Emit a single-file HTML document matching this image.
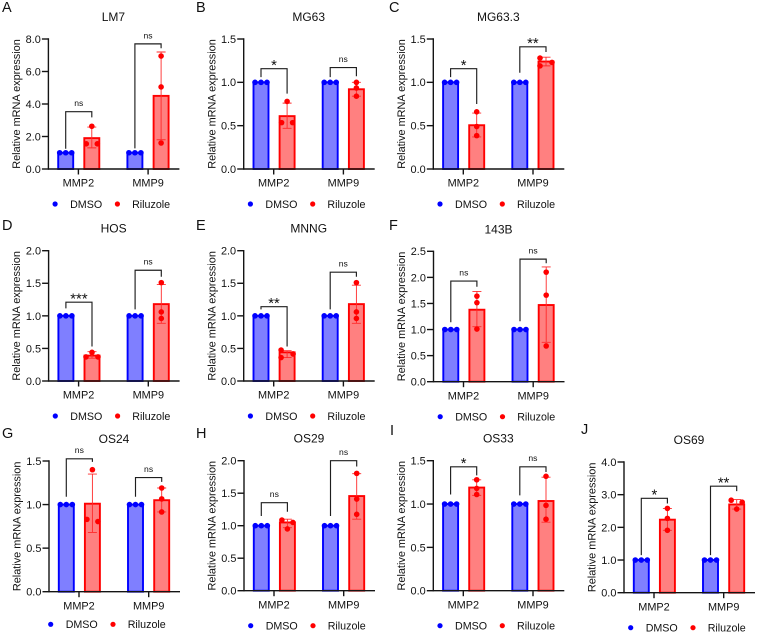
<!DOCTYPE html>
<html lang="en">
<head>
<meta charset="utf-8">
<title>Relative mRNA expression of MMP2 and MMP9</title>
<style>
html,body{margin:0;padding:0;background:#fff;width:757px;height:633px;overflow:hidden}
svg{display:block;font-family:"Liberation Sans",Arial,sans-serif}
text{fill:#111}
</style>
</head>
<body>
<svg id="figure" xmlns="http://www.w3.org/2000/svg" width="757" height="633" viewBox="0 0 757 633"></svg>
<script>
// ---- chart data (one entry per panel, A to J) ----
const panelLetters = ['A','B','C','D','E','F','G','H','I','J'];
const panelTitles = ['LM7','MG63','MG63.3','HOS','MNNG','143B','OS24','OS29','OS33','OS69'];
const categories = ['MMP2','MMP9'];
const seriesNames = ['DMSO','Riluzole'];
const yAxisTitle = 'Relative mRNA expression';
const yTickLabels = [
  ['0.0','2.0','4.0','6.0','8.0'],
  ['0.0','0.5','1.0','1.5'],
  ['0.0','0.5','1.0','1.5'],
  ['0.0','0.5','1.0','1.5','2.0'],
  ['0.0','0.5','1.0','1.5','2.0'],
  ['0.0','0.5','1.0','1.5','2.0','2.5'],
  ['0.0','0.5','1.0','1.5'],
  ['0.0','0.5','1.0','1.5','2.0'],
  ['0.0','0.5','1.0','1.5'],
  ['0.0','1.0','2.0','3.0','4.0']
];
const dmsoMeans = [[1,1],[1,1],[1,1],[1,1],[1,1],[1,1],[1,1],[1,1],[1,1],[1,1]];
const dmsoPoints = [1,1,1];
const riluzoleMeans = [[1.9,4.5],[0.61,0.92],[0.505,1.24],[0.39,1.18],[0.44,1.18],[1.38,1.47],[1.01,1.05],[1.05,1.456],[1.19,1.035],[2.235,2.70]];
const riluzoleErrLow = [[1.3,1.8],[0.47,0.84],[0.37,1.19],[0.35,0.885],[0.36,0.885],[1.055,0.755],[0.68,0.915],[0.97,1.1],[1.1,0.79],[1.91,2.56]];
const riluzoleErrHigh = [[2.58,7.2],[0.76,1.0],[0.645,1.29],[0.45,1.48],[0.465,1.47],[1.73,2.2],[1.35,1.19],[1.1,1.8],[1.28,1.31],[2.58,2.85]];
const riluzolePoints = [
  [[2.63,1.55,1.55],[6.95,5.05,1.6]],
  [[0.78,0.535,0.535],[1.0,0.935,0.84]],
  [[0.66,0.49,0.385],[1.28,1.23,1.19]],
  [[0.44,0.37,0.37],[1.51,1.06,0.96]],
  [[0.475,0.415,0.36],[1.51,1.06,0.96]],
  [[1.64,1.515,1.01],[2.1,1.66,0.685]],
  [[1.40,0.83,0.805],[1.19,1.065,0.915]],
  [[1.087,1.05,0.95],[1.805,1.41,1.175]],
  [[1.28,1.18,1.11],[1.32,0.985,0.825]],
  [[2.58,2.275,1.91],[2.83,2.77,2.56]]
];
const sigLabels = [['ns','ns'],['*','ns'],['*','**'],['***','ns'],['**','ns'],['ns','ns'],['ns','ns'],['ns','ns'],['*','ns'],['*','**']];
const bracketTops = [[3.53,7.7],[1.158,1.17],[1.158,1.41],[1.21,1.70],[1.14,1.67],[1.93,2.35],[1.525,1.31],[1.354,2.0],[1.43,1.43],[2.89,3.26]];
const bracketLeftEnds = [[1.25,1.27],[1.06,1.06],[1.06,1.11],[1.115,1.10],[1.10,1.10],[1.14,1.16],[1.09,1.09],[1.15,1.15],[1.11,1.10],[1.15,1.15]];
const bracketRightEnds = [[3.18,7.43],[0.87,1.07],[0.75,1.35],[0.53,1.6],[0.53,1.6],[1.82,2.27],[1.49,1.26],[1.215,1.91],[1.33,1.37],[2.73,3.11]];

// ---- drawing ----
const NS = 'http://www.w3.org/2000/svg';
const root = document.getElementById('figure');
const INK = '#141414';
const BLUE = '#0000ff', BLUE_FILL = '#7f7fff', RED = '#ff0000', RED_FILL = '#ff8080';

function make(tag, attrs, parent, content) {
  const el = document.createElementNS(NS, tag);
  for (const k in attrs) el.setAttribute(k, attrs[k]);
  if (content !== undefined) el.textContent = content;
  parent.appendChild(el);
  return el;
}

// horizontal offsets for a swarm of dots, derived from how close they are on screen
function swarmOffsets(pixelYs) {
  const order = pixelYs.map((y, i) => i).sort((a, b) => pixelYs[a] - pixelYs[b]);
  const out = pixelYs.map(() => 0);
  let cluster = [];
  function flush() {
    if (cluster.length === 2) {
      out[cluster[0]] = -5.5;
      out[cluster[1]] = 5.5;
    } else if (cluster.length >= 3) {
      const span = pixelYs[cluster[2]] - pixelYs[cluster[0]];
      const gap = pixelYs[cluster[1]] - pixelYs[cluster[0]];
      let pattern = [-6, 0, 6];
      if (span >= 6) pattern = [-6, 6, -6];
      else if (gap > 3) pattern = [0, -6, 6];
      cluster.forEach((idx, n) => { out[idx] = pattern[n % 3]; });
    }
    cluster = [];
  }
  order.forEach(idx => {
    if (cluster.length && pixelYs[idx] - pixelYs[cluster[cluster.length - 1]] >= 5) flush();
    cluster.push(idx);
  });
  flush();
  return out;
}

function drawPoints(g, values, cx, yScale, color, name) {
  const ys = values.map(yScale);
  const offs = swarmOffsets(ys);
  values.forEach((v, i) => {
    const dot = make('circle', {cx: cx + offs[i], cy: ys[i], r: 2.8, fill: color}, g);
    
    
  });
}

function drawBar(g, mean, cx, yScale, stroke, fill, name) {
  const top = yScale(mean), base = yScale(0);
  const bar = make('rect', {x: cx - 7.5, y: top, width: 15, height: base - top, fill: fill, stroke: stroke, 'stroke-width': 1.9}, g);
  
  
}

function drawPanel(p, axisX, topY, baseY, opts) {
  opts = opts || {};
  const plotW = 131;
  const labels = yTickLabels[p];
  const ticks = labels.map(parseFloat);
  const yMax = ticks[ticks.length - 1];
  const yScale = v => baseY - (v / yMax) * (baseY - topY);
  const barOffsets = [[17.3, 43.4], [86.5, 112.7]];
  const catTickOffsets = [30, 99.7];

  const g = make('g', {}, root);
  
  

  const letter = make('text', {x: opts.letterX, y: opts.letterY, 'font-size': 14.5}, g, panelLetters[p]);
  
  

  const title = make('text', {x: axisX + 65, y: topY - 18, 'font-size': 12, 'text-anchor': 'middle'}, g, panelTitles[p]);
  
  

  const yTitleY = (topY + baseY) / 2;
  const yTitle = make('text', {x: 0, y: 0, 'font-size': 10.9, 'text-anchor': 'middle', transform: 'translate(' + (axisX - 28.4) + ' ' + yTitleY + ') rotate(-90)'}, g, yAxisTitle);
  
  

  // bars, error bars, points
  categories.forEach((cat, c) => {
    const dx = axisX + barOffsets[c][0], rx = axisX + barOffsets[c][1];
    drawBar(g, dmsoMeans[p][c], dx, yScale, BLUE, BLUE_FILL, 'bar-dmso-' + cat.toLowerCase());
    drawBar(g, riluzoleMeans[p][c], rx, yScale, RED, RED_FILL, 'bar-riluzole-' + cat.toLowerCase());

    const lo = yScale(riluzoleErrLow[p][c]), hi = yScale(riluzoleErrHigh[p][c]);
    const err = make('path', {d: 'M' + rx + ' ' + lo + 'V' + hi + 'M' + (rx - 4.5) + ' ' + lo + 'H' + (rx + 4.5) + 'M' + (rx - 4.5) + ' ' + hi + 'H' + (rx + 4.5), fill: 'none', stroke: '#ff2a2a', 'stroke-width': 0.9}, g);
    
    

    drawPoints(g, dmsoPoints, dx, yScale, BLUE, 'point-dmso-' + cat.toLowerCase());
    drawPoints(g, riluzolePoints[p][c], rx, yScale, RED, 'point-riluzole-' + cat.toLowerCase());

    // significance bracket
    const bTop = yScale(bracketTops[p][c]);
    const br = make('path', {d: 'M' + dx + ' ' + yScale(bracketLeftEnds[p][c]) + 'V' + bTop + 'H' + rx + 'V' + yScale(bracketRightEnds[p][c]), fill: 'none', stroke: '#1e1e1e', 'stroke-width': 1.15}, g);
    
    

    const sig = sigLabels[p][c];
    const isNs = sig === 'ns';
    const sigText = make('text', {x: (dx + rx) / 2, y: isNs ? bTop - 5.6 : bTop + 1.2, 'font-size': isNs ? 8.6 : 14.8, 'text-anchor': 'middle'}, g, sig);
    
    

    // category tick and label
    const tx = axisX + catTickOffsets[c];
    const tk = make('line', {x1: tx, x2: tx, y1: baseY, y2: baseY + 5.5, stroke: INK, 'stroke-width': 1.4}, g);
    
    
    const tl = make('text', {x: tx, y: baseY + 17.6, 'font-size': 10.9, 'text-anchor': 'middle'}, g, cat);
    
    
  });

  // axes
  const yAxis = make('line', {x1: axisX, x2: axisX, y1: topY - 0.7, y2: baseY + 0.7, stroke: INK, 'stroke-width': 1.4}, g);
  
  
  const xAxis = make('line', {x1: axisX, x2: axisX + plotW, y1: baseY, y2: baseY, stroke: INK, 'stroke-width': 1.4}, g);
  
  

  labels.forEach((lab, i) => {
    const y = yScale(ticks[i]);
    const tk = make('line', {x1: axisX - 6.5, x2: axisX, y1: y, y2: y, stroke: INK, 'stroke-width': 1.4}, g);
    
    
    const tl = make('text', {x: axisX - 7.6, y: y + 3.9, 'font-size': 10.9, 'text-anchor': 'end'}, g, lab);
    
    
  });

  // legend
  const lx = axisX + (opts.legendShift || 0);
  const ly = baseY + (opts.legendGap || 35);
  const colors = [BLUE, RED];
  const dotOffsets = [6.7, 69];
  const textOffsets = [21.7, 83.7];
  seriesNames.forEach((s, i) => {
    const entry = make('g', {}, g);
    
    
    make('circle', {cx: lx + dotOffsets[i], cy: ly, r: 2.6, fill: colors[i]}, entry);
    make('text', {x: lx + textOffsets[i], y: ly + 3.9, 'font-size': 10.7}, entry, s);
  });
}

drawPanel(0, 48.4, 39, 169, {letterX: 2, letterY: 12});
drawPanel(1, 243.7, 39, 169, {letterX: 196, letterY: 12});
drawPanel(2, 433.3, 39, 169, {letterX: 389, letterY: 12});
drawPanel(3, 48.6, 250.7, 381, {letterX: 2, letterY: 230});
drawPanel(4, 243.7, 250.7, 381, {letterX: 196, letterY: 230});
drawPanel(5, 433.5, 251.3, 381.7, {letterX: 389, letterY: 230});
drawPanel(6, 49, 461, 591.7, {letterX: 2, letterY: 438, legendShift: -5, legendGap: 32.6});
drawPanel(7, 244, 460.7, 590.7, {letterX: 196, letterY: 438});
drawPanel(8, 433.3, 460.7, 590.7, {letterX: 390, letterY: 435});
drawPanel(9, 624, 462, 592.7, {letterX: 581, letterY: 434});
</script>
</body>
</html>
